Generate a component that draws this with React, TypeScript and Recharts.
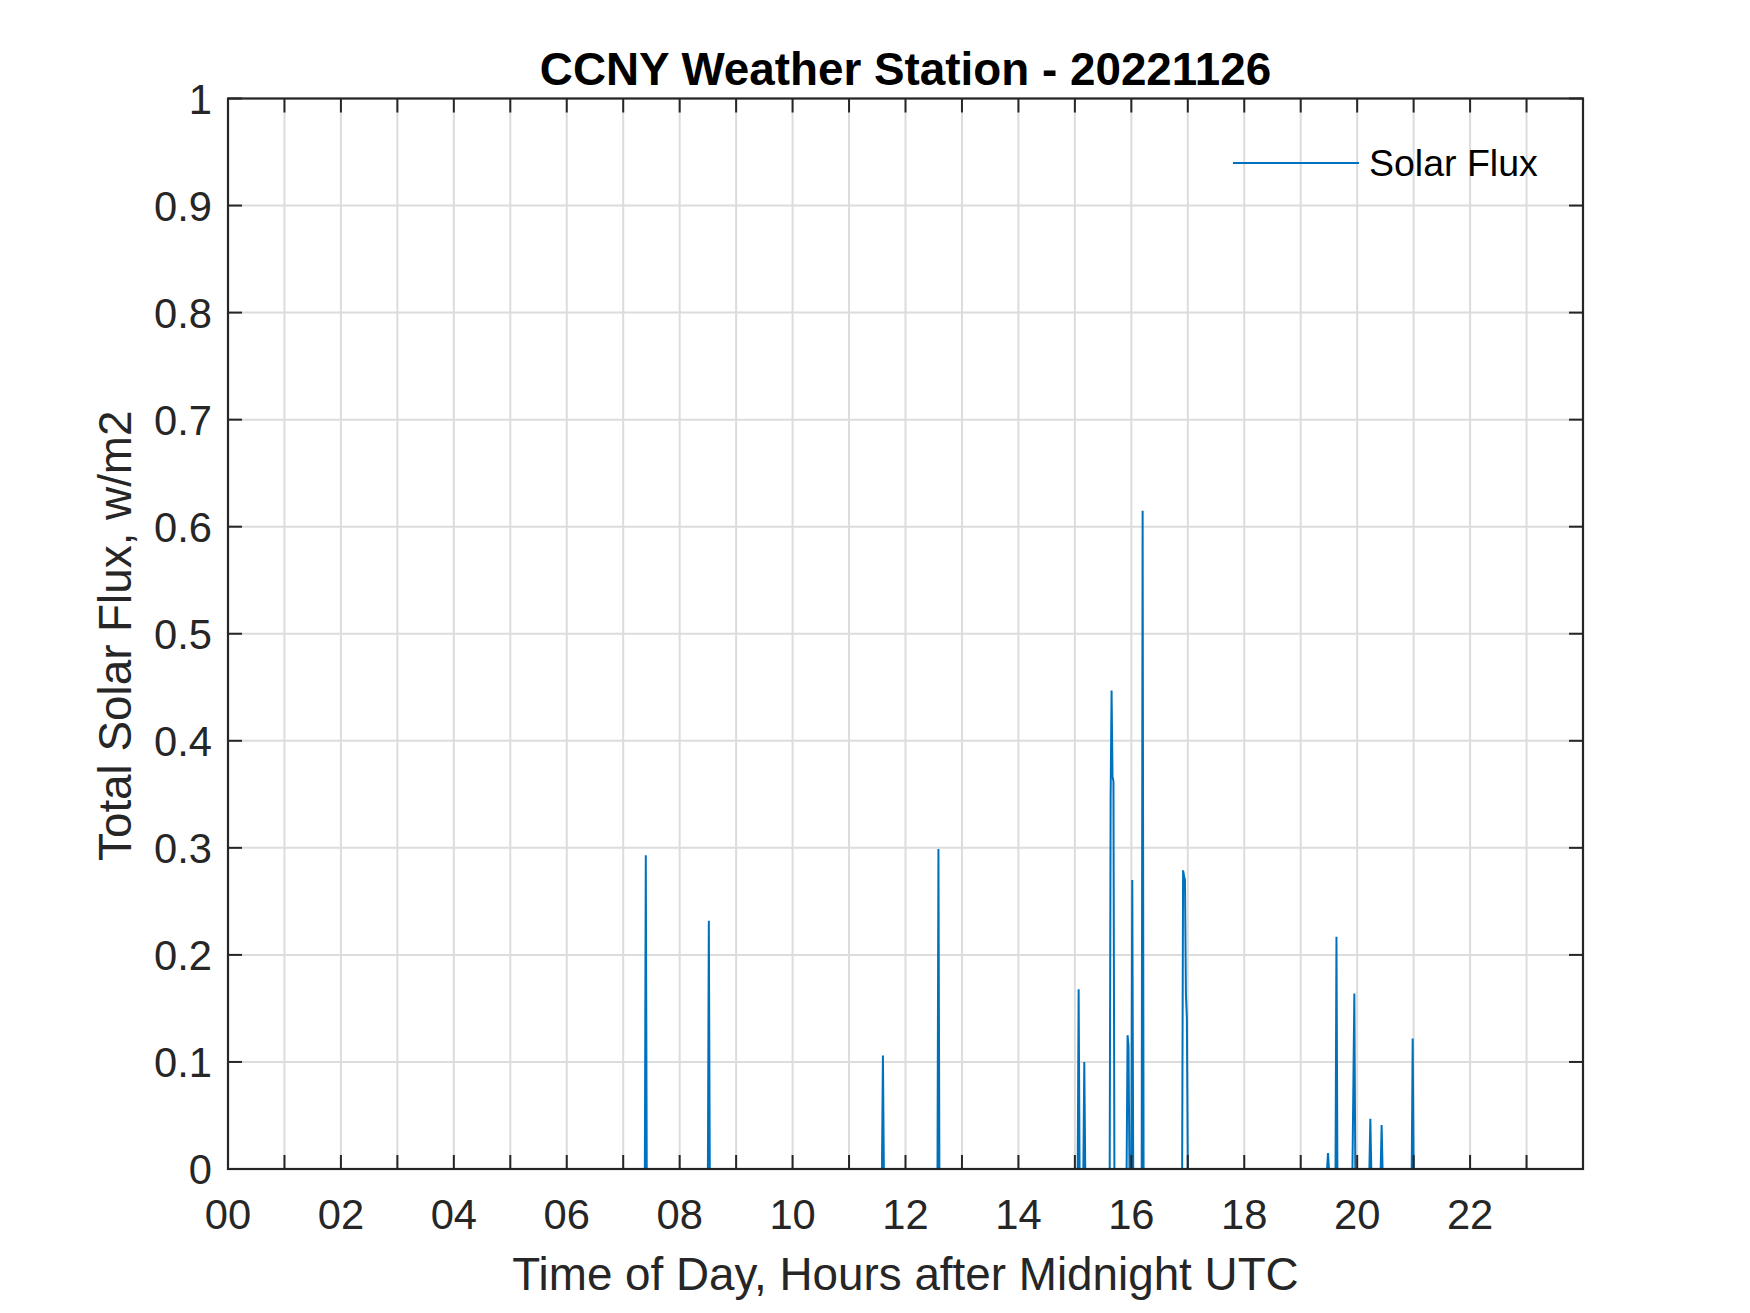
// CCNY Weather Station — solar flux for one day, MATLAB-style plot in Recharts
import {
  LineChart, Line, XAxis, YAxis, CartesianGrid, Legend,
} from 'recharts'

// ── Data ───────────────────────────────────────────────────
// samples, minutes after midnight UTC
const minutesOfDay = [
  0, 443, 444, 445, 510, 511, 512, 695, 696, 697, 754, 755, 756,
  903, 904, 905, 909, 910, 911, 937, 938, 939, 940, 941, 942,
  955, 956, 957, 958, 960, 961, 962, 971, 972, 973,
  1014, 1015, 1016, 1017, 1018, 1019, 1020, 1168, 1169, 1170,
  1177, 1178, 1179, 1195, 1196, 1197, 1198, 1213, 1214, 1215,
  1225, 1226, 1227, 1258, 1259, 1260, 1439,
]
// total solar flux, w/m2
const solarFlux = [
  0, 0, 0.293, 0, 0, 0.232, 0, 0, 0.106, 0, 0, 0.299, 0,
  0, 0.168, 0, 0, 0.1, 0, 0, 0.348, 0.447, 0.367, 0.362, 0,
  0, 0.125, 0.115, 0, 0, 0.27, 0, 0, 0.615, 0,
  0, 0.279, 0.274, 0.27, 0.163, 0.141, 0, 0, 0.015, 0,
  0, 0.217, 0, 0, 0.082, 0.164, 0, 0, 0.047, 0,
  0, 0.041, 0, 0, 0.122, 0, 0,
]
const hourTicks = [0, 1, 2, 3, 4, 5, 6, 7, 8, 9, 10, 11, 12, 13, 14, 15, 16, 17, 18, 19, 20, 21, 22, 23]
const fluxTicks = [0, 0.1, 0.2, 0.3, 0.4, 0.5, 0.6, 0.7, 0.8, 0.9, 1]

const TITLE = 'CCNY Weather Station - 20221126'
const X_LABEL = 'Time of Day, Hours after Midnight UTC'
const Y_LABEL = 'Total Solar Flux, w/m2'
const SERIES = 'Solar Flux'

const data = minutesOfDay.map((m, i) => ({ hour: m / 60, flux: solarFlux[i] }))

// ── Layout / style ─────────────────────────────────────────
const C = { line: '#0072BD', axis: '#262626', grid: '#dcdcdc', text: '#262626' }
const FONT = "'Liberation Sans', Arial, Helvetica, sans-serif"
const W = 1750, H = 1313
const Y_AXIS_W = 80, X_AXIS_H = 40
const M = { top: 98.5, right: 167, bottom: 104, left: 148 }
const PLOT_X = M.left + Y_AXIS_W
const PLOT_W = W - M.left - M.right - Y_AXIS_W   // 1355
const PLOT_H = H - M.top - M.bottom - X_AXIS_H   // 1070.5
const TICK = 14
const TICK_FS = 41.7

// bottom axis tick: inward tick mark, mirrored on top edge, label every 2 h
function HourTick({ x, y, payload }: { x: number; y: number; payload: { value: number } }) {
  const h = payload.value
  return (
    <g>
      <line x1={x} x2={x} y1={y} y2={y - TICK} stroke={C.axis} strokeWidth={2} />
      <line x1={x} x2={x} y1={y - PLOT_H} y2={y - PLOT_H + TICK} stroke={C.axis} strokeWidth={2} />
      {h % 2 === 0 && (
        <text x={x} y={y + 60} textAnchor="middle" fill={C.text}
          style={{ fontFamily: FONT, fontSize: TICK_FS }}>
          {String(h).padStart(2, '0')}
        </text>
      )}
    </g>
  )
}

// left axis tick: inward tick mark, mirrored on right edge
function FluxTick({ x, y, payload }: { x: number; y: number; payload: { value: number } }) {
  const v = payload.value
  return (
    <g>
      <line x1={x} x2={x + TICK} y1={y} y2={y} stroke={C.axis} strokeWidth={2} />
      <line x1={x + PLOT_W} x2={x + PLOT_W - TICK} y1={y} y2={y} stroke={C.axis} strokeWidth={2} />
      <text x={x - 16} y={y + 15} textAnchor="end" fill={C.text}
        style={{ fontFamily: FONT, fontSize: TICK_FS }}>
        {String(Math.round(v * 10) / 10)}
      </text>
    </g>
  )
}

function FluxLegend() {
  return (
    <div style={{ display: 'flex', alignItems: 'center', fontFamily: FONT, fontSize: 37.5, lineHeight: '44px', color: '#000', whiteSpace: 'nowrap' }}>
      <span style={{ display: 'inline-block', width: 126, height: 0, borderTop: `2px solid ${C.line}`, marginRight: 10 }} />
      <span>{SERIES}</span>
    </div>
  )
}

export default function App() {
  const cx = PLOT_X + PLOT_W / 2
  const cy = M.top + PLOT_H / 2
  return (
    <div style={{ position: 'relative', width: W, height: H, background: '#fff' }}>
      <style>{'body{margin:0;background:#fff}'}</style>
      <LineChart width={W} height={H} data={data} margin={M}>
        <CartesianGrid stroke={C.grid} strokeWidth={2} />
        <Line dataKey="flux" type="linear" stroke={C.line} strokeWidth={2}
          dot={false} activeDot={false} isAnimationActive={false} name={SERIES} />
        <XAxis dataKey="hour" type="number" domain={[0, 24]} ticks={hourTicks}
          interval={0} height={X_AXIS_H} tickSize={0} tickMargin={0}
          tickLine={false} axisLine={false} tick={HourTick} allowDataOverflow />
        <YAxis type="number" domain={[0, 1]} ticks={fluxTicks} interval={0}
          width={Y_AXIS_W} tickSize={0} tickMargin={0}
          tickLine={false} axisLine={false} tick={FluxTick} allowDataOverflow />
        <Legend layout="vertical" align="center" verticalAlign="middle"
          content={FluxLegend}
          wrapperStyle={{ left: 1233, top: 141, width: 'auto', height: 'auto' }} />
      </LineChart>
      {/* axes box + titles, drawn above the data like MATLAB's axes */}
      <svg width={W} height={H} style={{ position: 'absolute', left: 0, top: 0, pointerEvents: 'none' }}>
        <rect x={PLOT_X} y={M.top} width={PLOT_W} height={PLOT_H} fill="none" stroke={C.axis} strokeWidth={2.2} />
        <text x={cx} y={85} textAnchor="middle" fill="#000"
          style={{ fontFamily: FONT, fontSize: 45.8, fontWeight: 700 }}>{TITLE}</text>
        <text x={cx} y={1290} textAnchor="middle" fill={C.text}
          style={{ fontFamily: FONT, fontSize: 45.8 }}>{X_LABEL}</text>
        <text transform={`translate(131, ${cy + 2}) rotate(-90)`} textAnchor="middle" fill={C.text}
          style={{ fontFamily: FONT, fontSize: 45.8 }}>{Y_LABEL}</text>
      </svg>
    </div>
  )
}
